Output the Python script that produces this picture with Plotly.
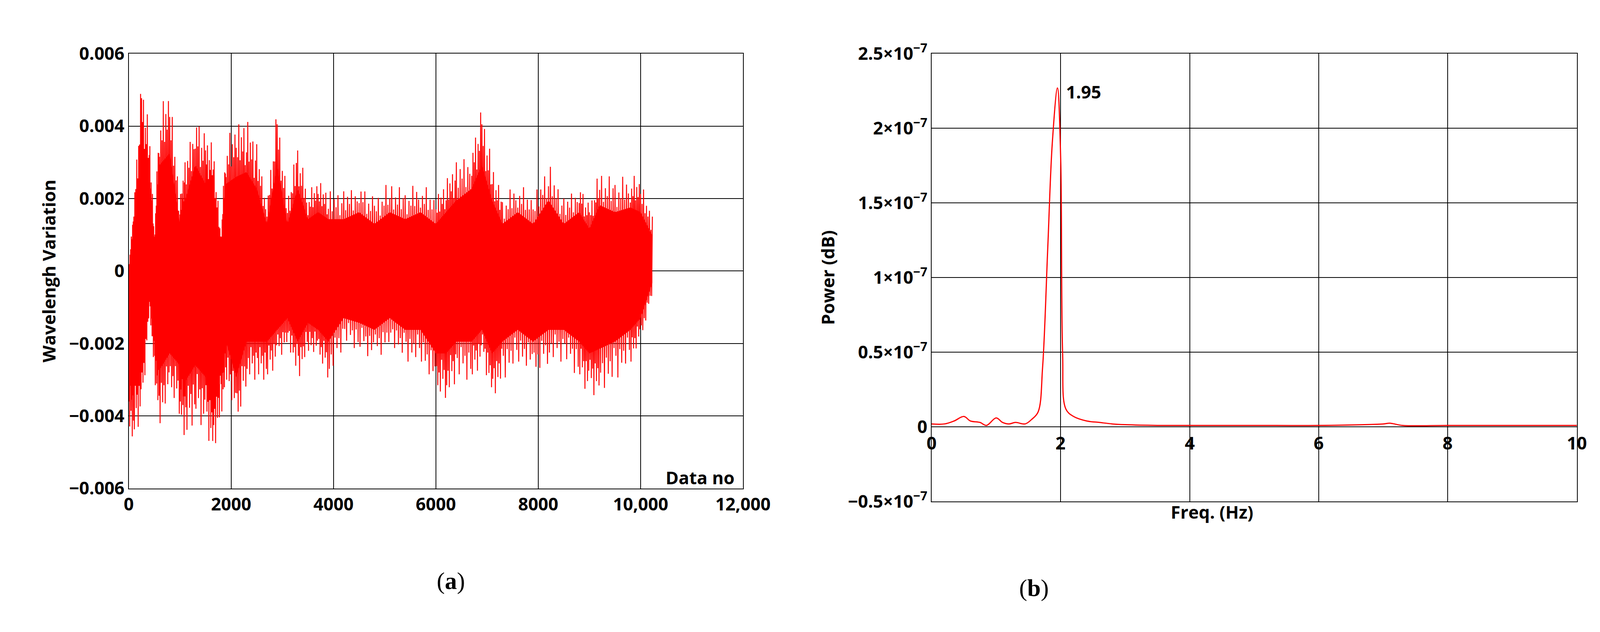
import plotly.graph_objects as go

# Panel (a): envelope of the wavelength-variation trace
a_x = [0,100,250,400,500,600,800,1000,1100,1300,1500,1650,1800,1900,2100,2300,2500,2700,2900,3100,3300,3500,3700,3900,4200,4500,4800,5100,5400,5700,6000,6200,6400,6700,6900,7100,7300,7600,7900,8200,8500,8800,9000,9200,9500,9800,10000,10230]
a_up = [0.0,0.002,0.0053,0.004,0.001,0.0045,0.005,0.002,0.003,0.0045,0.0037,0.0035,0.001,0.0037,0.004,0.0042,0.0035,0.002,0.0045,0.002,0.0035,0.0022,0.0025,0.0022,0.0022,0.0025,0.002,0.0025,0.0022,0.0025,0.002,0.0025,0.003,0.0035,0.0045,0.003,0.002,0.0025,0.002,0.003,0.002,0.0025,0.0018,0.0028,0.0025,0.0027,0.0025,0.0015]
a_lo = [-0.0045,-0.0046,-0.004,-0.001,-0.003,-0.0042,-0.0035,-0.004,-0.0047,-0.004,-0.0045,-0.005,-0.004,-0.003,-0.0045,-0.003,-0.003,-0.003,-0.0025,-0.002,-0.003,-0.0022,-0.0025,-0.003,-0.002,-0.0022,-0.0025,-0.002,-0.0025,-0.0025,-0.0035,-0.0035,-0.003,-0.003,-0.0025,-0.0035,-0.003,-0.0025,-0.003,-0.0025,-0.0025,-0.003,-0.0035,-0.0033,-0.003,-0.0025,-0.002,-0.0005]
a_xticks = [0,2000,4000,6000,8000,10000,12000]
a_xtext = ["0","2000","4000","6000","8000","10,000","12,000"]
a_yticks = [-0.006,-0.004,-0.002,0,0.002,0.004,0.006]
a_ytext = ["\u22120.006","\u22120.004","\u22120.002","0","0.002","0.004","0.006"]

# Panel (b): power spectrum
b_f = [0,0.2,0.35,0.5,0.6,0.75,0.85,1.0,1.1,1.2,1.3,1.45,1.55,1.65,1.72,1.8,1.87,1.95,2.0,2.03,2.08,2.2,2.4,2.6,2.8,3.0,3.5,4.0,5.0,6.0,7.0,7.1,7.3,8.0,9.0,10.0]
b_p = [0.02,0.02,0.04,0.07,0.04,0.03,0.01,0.06,0.03,0.02,0.03,0.02,0.05,0.1,0.4,1.2,1.9,2.27,1.8,0.5,0.12,0.07,0.04,0.03,0.02,0.015,0.01,0.01,0.01,0.01,0.02,0.025,0.01,0.01,0.01,0.01]
b_xticks = [0,2,4,6,8,10]
b_yticks = [-0.5,0,0.5,1,1.5,2,2.5]
b_ytext = ["\u22120.5\u00d710<sup>\u22127</sup>","0","0.5\u00d710<sup>\u22127</sup>","1\u00d710<sup>\u22127</sup>","1.5\u00d710<sup>\u22127</sup>","2\u00d710<sup>\u22127</sup>","2.5\u00d710<sup>\u22127</sup>"]

RED = "#ff0000"
FONT = "Open Sans"
fs = 45

# zigzag through envelope with varied amplitude pattern
pattern = [1.0, 0.75, 0.9, 0.8, 0.95, 0.7, 0.85, 0.78]
zx, zy = [], []
for i in range(len(a_x) - 1):
    x0, x1 = a_x[i], a_x[i+1]
    n = 8
    for k in range(n):
        t = k / n
        xm = x0 + (x1 - x0) * t
        up = a_up[i] + (a_up[i+1] - a_up[i]) * t
        lo = a_lo[i] + (a_lo[i+1] - a_lo[i]) * t
        f = pattern[(k + i) % len(pattern)]
        g = pattern[(k + i + 3) % len(pattern)]
        zx += [xm, xm + (x1 - x0) / (2 * n)]
        zy += [up * f, lo * g]
zx.append(a_x[-1]); zy.append(a_up[-1])

fig = go.Figure()
fig.add_trace(go.Scatter(x=a_x, y=[u*0.65 for u in a_up], mode="lines", line=dict(width=0), showlegend=False, xaxis="x", yaxis="y"))
fig.add_trace(go.Scatter(x=a_x, y=[l*0.65 for l in a_lo], mode="lines", line=dict(width=0), fill="tonexty", fillcolor=RED, showlegend=False, xaxis="x", yaxis="y"))
fig.add_trace(go.Scatter(x=zx, y=zy, mode="lines", line=dict(color=RED, width=2.5), showlegend=False, xaxis="x", yaxis="y"))
fig.add_trace(go.Scatter(x=b_f, y=b_p, mode="lines", line=dict(color=RED, width=3, shape="spline"), showlegend=False, xaxis="x2", yaxis="y2"))

ax = dict(showline=True, linecolor="black", linewidth=2, mirror=True, showgrid=True, gridcolor="black", gridwidth=2, zeroline=False,
          tickfont=dict(family=FONT, size=fs, color="black"), ticks="")
fig.update_layout(
    width=4134, height=1617, paper_bgcolor="white", plot_bgcolor="white", margin=dict(l=0, r=0, t=0, b=0),
    font=dict(family=FONT, size=fs, color="black"),
    xaxis=dict(ax, domain=[315/4134, 1920/4134], range=[0, 12000], tickvals=a_xticks, ticktext=["<b>%s</b>" % t for t in a_xtext], anchor="y"),
    yaxis=dict(ax, domain=[1-1256/1617, 1-96/1617], range=[-0.006, 0.006], tickvals=a_yticks, ticktext=["<b>%s</b>" % t for t in a_ytext], anchor="x",
               title=dict(text="<b>Wavelengh Variation</b>", font=dict(family=FONT, size=fs), standoff=20)),
    xaxis2=dict(ax, domain=[2413/4134, 4099/4134], range=[0, 10], tickvals=b_xticks, showticklabels=False, anchor="y2"),
    yaxis2=dict(ax, domain=[1-1291/1617, 1-96/1617], range=[-0.5, 2.5], tickvals=b_yticks, ticktext=["<b>%s</b>" % t for t in b_ytext], anchor="x2",
                title=dict(text="<b>Power (dB)</b>", font=dict(family=FONT, size=fs), standoff=20)),
)
for v in b_xticks:
    fig.add_annotation(x=v, y=0, xref="x2", yref="y2", text="<b>%d</b>" % v, showarrow=False, yshift=-40, font=dict(family=FONT, size=fs))
fig.add_annotation(x=(2413+4099)/2/4134, y=1-1352/1617, xref="paper", yref="paper", text="<b>Freq. (Hz)</b>", showarrow=False, font=dict(family=FONT, size=fs))
fig.add_annotation(x=11850, y=-0.0057, xref="x", yref="y", text="<b>Data no</b>", showarrow=False, xanchor="right", font=dict(family=FONT, size=fs))
fig.add_annotation(x=1.95, y=2.27, xref="x2", yref="y2", text="<b>1.95</b>", showarrow=False, xanchor="left", xshift=20, yshift=-10, font=dict(family=FONT, size=fs))
fig.add_annotation(x=(315+1920)/2/4134, y=1-1541/1617, xref="paper", yref="paper", text="(<b>a</b>)", showarrow=False, font=dict(family="Liberation Serif", size=62))
fig.add_annotation(x=2680/4134, y=1-1560/1617, xref="paper", yref="paper", text="(<b>b</b>)", showarrow=False, font=dict(family="Liberation Serif", size=62))
fig.write_html("out.html")
